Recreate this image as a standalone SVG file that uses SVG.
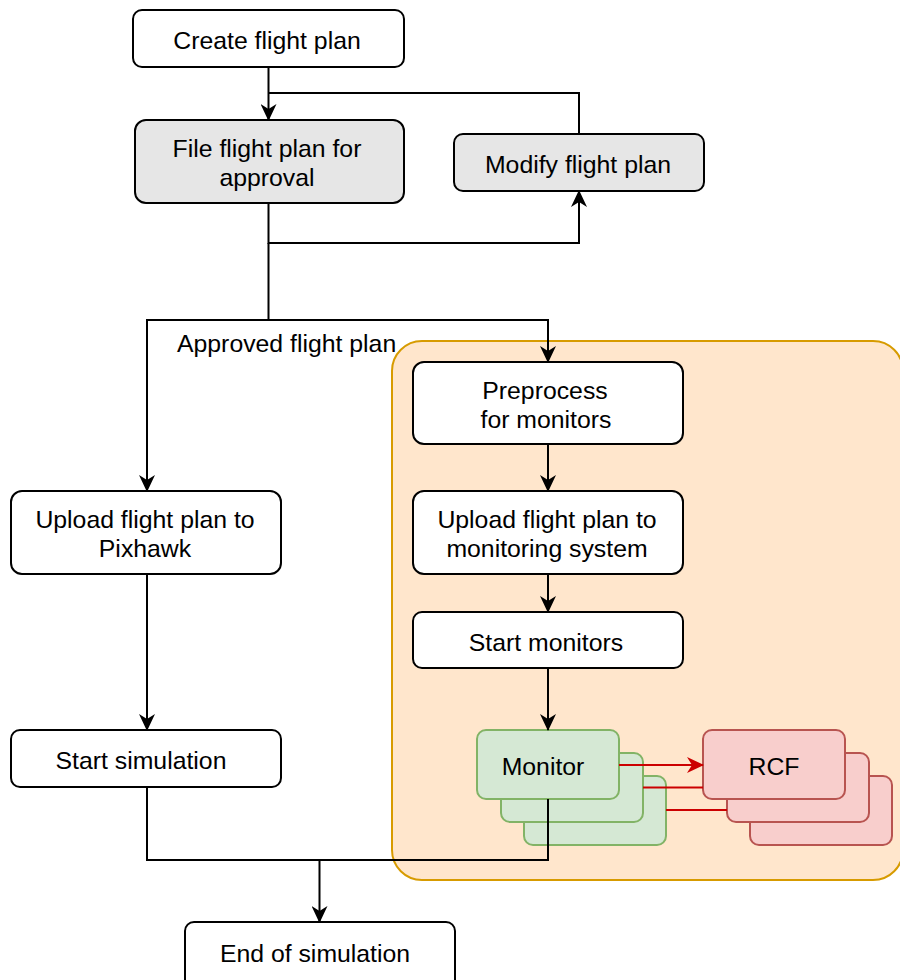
<svg xmlns="http://www.w3.org/2000/svg" width="900" height="980" viewBox="0 0 900 980">
  <style>
    text { font-family: "Liberation Sans", Arial, Helvetica, sans-serif; font-size: 24.8px; fill: #000; text-anchor: middle; dominant-baseline: central; }
    .box { fill: #ffffff; stroke: #000; stroke-width: 2; }
    .grey { fill: #e6e6e6; stroke: #000; stroke-width: 2; }
    .mon { fill: #d5e8d4; stroke: #82b366; stroke-width: 2; }
    .rcf { fill: #f8cecc; stroke: #b85450; stroke-width: 2; }
    .edge { fill: none; stroke: #000; stroke-width: 2; }
    .red { fill: none; stroke: #cc0000; stroke-width: 2; }
  </style>
  <defs>
    <marker id="arrow" viewBox="0 0 17 16" refX="16" refY="8" markerWidth="17" markerHeight="16" markerUnits="userSpaceOnUse" orient="auto">
      <path d="M0,0 L17,8 L0,16 L5,8 z" fill="#000"/>
    </marker>
    <marker id="arrowRed" viewBox="0 0 17 16" refX="16" refY="8" markerWidth="17" markerHeight="16" markerUnits="userSpaceOnUse" orient="auto">
      <path d="M0,0 L17,8 L0,16 L5,8 z" fill="#cc0000"/>
    </marker>
  </defs>

  <rect width="900" height="980" fill="#ffffff"/>

  <!-- monitoring subsystem container -->
  <g id="monitoring-area">
    <rect x="392" y="341" width="511" height="539" rx="30" ry="30" fill="#ffe6cc" stroke="#d79b00" stroke-width="2"/>
  </g>

  <g id="create-flight-plan">
    <rect class="box" x="133" y="10" width="271" height="57" rx="9"/>
    <text x="267" y="40">Create flight plan</text>
  </g>

  <g id="file-flight-plan">
    <rect class="grey" x="135" y="120" width="269" height="83" rx="11"/>
    <text x="267" y="148">File flight plan for</text>
    <text x="267" y="177">approval</text>
  </g>

  <g id="modify-flight-plan">
    <rect class="grey" x="454" y="134" width="250" height="57" rx="9"/>
    <text x="578" y="164">Modify flight plan</text>
  </g>

  <g id="upload-pixhawk">
    <rect class="box" x="11" y="491" width="270" height="83" rx="11"/>
    <text x="145" y="519">Upload flight plan to</text>
    <text x="145" y="548">Pixhawk</text>
  </g>

  <g id="start-simulation">
    <rect class="box" x="11" y="730" width="270" height="57" rx="9"/>
    <text x="141" y="760">Start simulation</text>
  </g>

  <g id="preprocess">
    <rect class="box" x="413" y="362" width="270" height="82" rx="11"/>
    <text x="545" y="390">Preprocess</text>
    <text x="546" y="419">for monitors</text>
  </g>

  <g id="upload-monitoring">
    <rect class="box" x="413" y="491" width="270" height="83" rx="11"/>
    <text x="547" y="519">Upload flight plan to</text>
    <text x="547" y="548">monitoring system</text>
  </g>

  <g id="start-monitors">
    <rect class="box" x="413" y="612" width="270" height="56" rx="9"/>
    <text x="546" y="642">Start monitors</text>
  </g>

  <g id="monitors">
    <rect class="mon" x="524" y="776" width="142" height="69" rx="9"/>
    <rect class="mon" x="501" y="753" width="142" height="69" rx="9"/>
    <rect class="mon" x="477" y="730" width="142" height="69" rx="9"/>
    <text x="543" y="766">Monitor</text>
  </g>

  <g id="rcf">
    <rect class="rcf" x="750" y="776" width="142" height="69" rx="9"/>
    <rect class="rcf" x="727" y="753" width="142" height="69" rx="9"/>
    <rect class="rcf" x="703" y="730" width="142" height="69" rx="9"/>
    <text x="774" y="766">RCF</text>
  </g>

  <g id="end-simulation">
    <rect class="box" x="185" y="922" width="270" height="70" rx="9"/>
    <text x="315" y="953">End of simulation</text>
  </g>

  <g id="connectors">
    <path class="edge" d="M268.5 67 V120" marker-end="url(#arrow)"/>
    <path class="edge" d="M579 134 V93 H268.5"/>
    <path class="edge" d="M268.5 203 V243 H579 V191" marker-end="url(#arrow)"/>
    <path class="edge" d="M268.5 243 V320 H147 V491" marker-end="url(#arrow)"/>
    <path class="edge" d="M268.5 320 H548 V362" marker-end="url(#arrow)"/>
    <path class="edge" d="M548 444 V491" marker-end="url(#arrow)"/>
    <path class="edge" d="M548 574 V612" marker-end="url(#arrow)"/>
    <path class="edge" d="M548 668 V730" marker-end="url(#arrow)"/>
    <path class="edge" d="M147 574 V730" marker-end="url(#arrow)"/>
    <path class="edge" d="M147 787 V860 H319.5 V922" marker-end="url(#arrow)"/>
    <path class="edge" d="M548 799 V860 H319.5"/>
    <path class="red" d="M619 765 H703" marker-end="url(#arrowRed)"/>
    <path class="red" d="M643 787.5 H703"/>
    <path class="red" d="M666 810 H727"/>
    <text x="177" y="343" style="text-anchor:start">Approved flight plan</text>
  </g>
</svg>
